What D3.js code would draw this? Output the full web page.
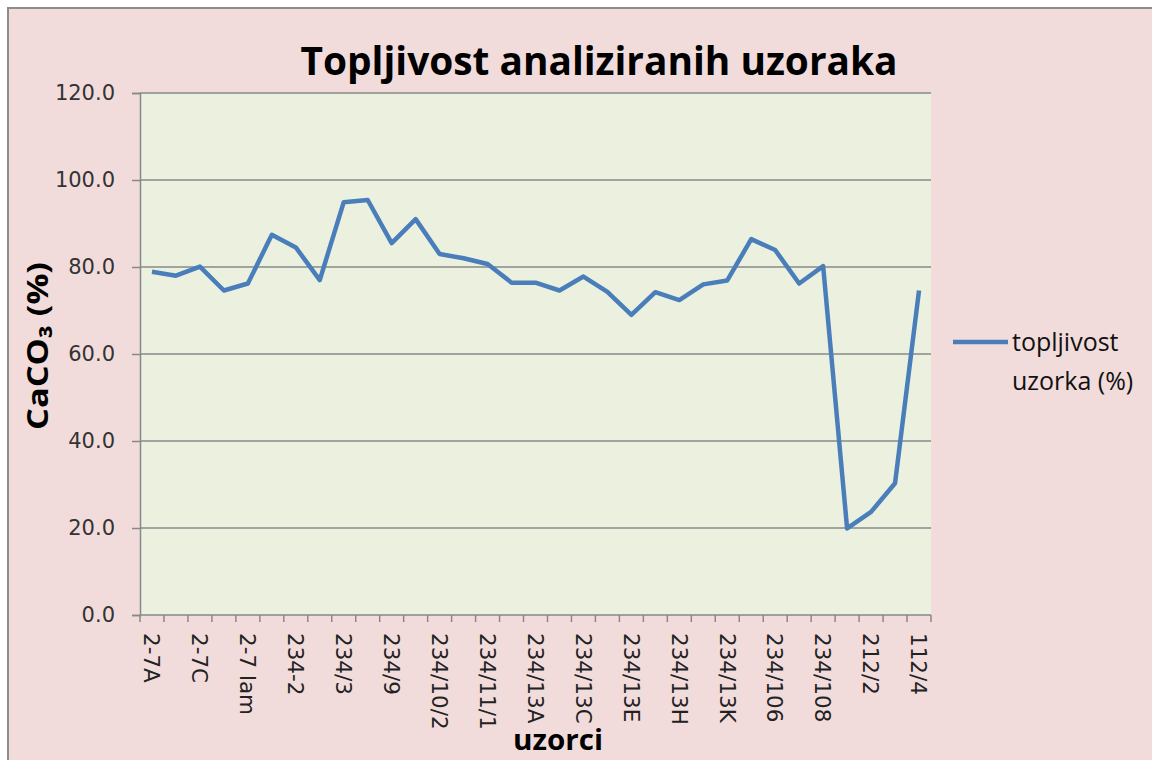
<!DOCTYPE html>
<html>
<head>
<meta charset="utf-8">
<script src="https://cdn.jsdelivr.net/npm/d3@7"></script>
<style>
  body { margin: 0; background: #fff; }
</style>
</head>
<body>
<div id="chart"></div>
<script>
// sample names (only every second one is printed on the axis)
var samples = ["2-7A", "2-7B", "2-7C", "2-7D", "2-7 lam", "234-1", "234-2", "234/2", "234/3", "234/7",
               "234/9", "234/10/1", "234/10/2", "234/10/3", "234/11/1", "234/11/2", "234/13A", "234/13B",
               "234/13C", "234/13D", "234/13E", "234/13G", "234/13H", "234/13I", "234/13K", "234/105",
               "234/106", "234/107", "234/108", "212/1", "212/2", "112/3", "112/4"];

// topljivost uzorka (%)
var solubility = [78.9, 78.0, 80.1, 74.6, 76.2, 87.4, 84.5, 77.0, 94.9, 95.4,
                  85.5, 91.0, 83.0, 82.0, 80.7, 76.4, 76.4, 74.6, 77.8, 74.3,
                  69.0, 74.2, 72.4, 76.0, 76.9, 86.4, 83.9, 76.2, 80.2, 19.9,
                  23.7, 30.3, 74.6];

var yTicks = [0, 20, 40, 60, 80, 100, 120];

var W = 1152, H = 760;
var margin = {top: 93, right: 221, bottom: 145, left: 140},
    width = W - margin.left - margin.right,
    height = H - margin.top - margin.bottom;

var svg = d3.select("#chart").append("svg")
    .attr("width", W)
    .attr("height", H);

// outer chart frame
svg.append("rect")
    .attr("x", 8).attr("y", 8)
    .attr("width", W + 10).attr("height", H + 10)
    .attr("fill", "#F2DCDB")
    .attr("stroke", "#8c8c8c")
    .attr("stroke-width", 2);

var g = svg.append("g")
    .attr("transform", "translate(" + margin.left + "," + margin.top + ")");

var x = d3.scaleBand().domain(samples).range([0, width]);
var y = d3.scaleLinear().domain([0, 120]).range([height, 0]);

// plot area
g.append("rect")
    .attr("width", width).attr("height", height)
    .attr("fill", "#EBF1DE");

// gridlines
g.selectAll(".grid")
    .data(yTicks.filter(function(d) { return d > 0; }))
    .enter().append("line")
      .attr("x1", 0).attr("x2", width)
      .attr("y1", function(d) { return y(d); })
      .attr("y2", function(d) { return y(d); })
      .attr("stroke", "#888")
      .attr("stroke-width", 1.5);

// y axis
var yAxis = d3.axisLeft(y)
    .tickValues(yTicks)
    .tickFormat(d3.format(".1f"))
    .tickSize(8)
    .tickPadding(17);
var ya = g.append("g").call(yAxis);
ya.selectAll("path, line").attr("stroke", "#888").attr("stroke-width", 1.5);
ya.selectAll("text")
    .attr("fill", "#333")
    .style("font-family", "DejaVu Sans")
    .style("font-size", "21px");

// x axis: ticks on category boundaries
var xa = g.append("g").attr("transform", "translate(0," + height + ")");
xa.append("line")
    .attr("x1", 0).attr("x2", width)
    .attr("stroke", "#888").attr("stroke-width", 1.5);
xa.selectAll(".tick")
    .data(samples.concat(["end"]))
    .enter().append("line")
      .attr("x1", function(d, i) { return i * x.bandwidth(); })
      .attr("x2", function(d, i) { return i * x.bandwidth(); })
      .attr("y1", 0).attr("y2", 7)
      .attr("stroke", "#888").attr("stroke-width", 1.5);
xa.selectAll(".lab")
    .data(samples.filter(function(d, i) { return i % 2 === 0; }))
    .enter().append("text")
      .attr("transform", function(d) {
        return "translate(" + (x(d) + x.bandwidth() / 2) + ",18) rotate(90)";
      })
      .attr("dy", "0.36em")
      .attr("fill", "#222")
      .style("font-family", "DejaVu Sans")
      .style("font-size", "21.5px")
      .text(function(d) { return d; });

// the line
var line = d3.line()
    .x(function(d, i) { return x(samples[i]) + x.bandwidth() / 2; })
    .y(function(d) { return y(d); });
g.append("path")
    .datum(solubility)
    .attr("fill", "none")
    .attr("stroke", "#4A7EBB")
    .attr("stroke-width", 4.5)
    .attr("stroke-linejoin", "round")
    .attr("d", line);

// title
svg.append("text")
    .attr("x", 599).attr("y", 75)
    .attr("text-anchor", "middle")
    .attr("textLength", 597)
    .attr("lengthAdjust", "spacingAndGlyphs")
    .style("font-family", "Open Sans")
    .style("font-weight", "bold")
    .style("font-size", "40px")
    .attr("fill", "#000")
    .text("Topljivost analiziranih uzoraka");

// y axis title
svg.append("text")
    .attr("transform", "translate(48,346) rotate(-90)")
    .attr("text-anchor", "middle")
    .attr("textLength", 168)
    .attr("lengthAdjust", "spacingAndGlyphs")
    .style("font-family", "Open Sans")
    .style("font-weight", "bold")
    .style("font-size", "29px")
    .attr("fill", "#000")
    .text("CaCO₃ (%)");

// x axis title
svg.append("text")
    .attr("x", 558).attr("y", 750)
    .attr("text-anchor", "middle")
    .attr("textLength", 90)
    .attr("lengthAdjust", "spacingAndGlyphs")
    .style("font-family", "Open Sans")
    .style("font-weight", "bold")
    .style("font-size", "28px")
    .attr("fill", "#000")
    .text("uzorci");

// legend
var legend = svg.append("g").attr("transform", "translate(953,342)");
legend.append("line")
    .attr("x1", 0).attr("x2", 55)
    .attr("stroke", "#4A7EBB")
    .attr("stroke-width", 4.5);
legend.selectAll("text")
    .data(["topljivost", "uzorka (%)"])
    .enter().append("text")
      .attr("x", 59)
      .attr("y", function(d, i) { return 9 + i * 39; })
      .style("font-family", "Open Sans")
      .style("font-size", "25px")
      .attr("fill", "#111")
      .text(function(d) { return d; });
</script>
</body>
</html>
